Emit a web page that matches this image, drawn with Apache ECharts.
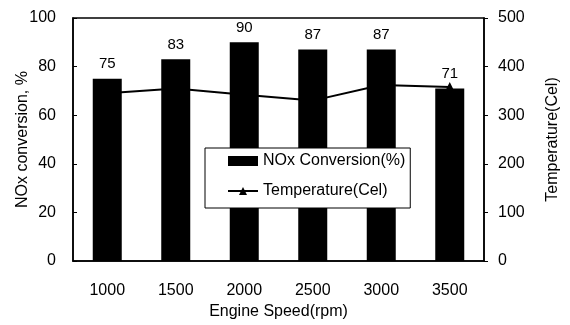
<!DOCTYPE html>
<html><head><meta charset="utf-8">
<script src="https://cdn.jsdelivr.net/npm/echarts@6/dist/echarts.min.js"></script>
<style>html,body{margin:0;padding:0;background:#fff}#c{width:570px;height:325px}</style>
</head><body><div id="c"></div>
<script>
const categories = ['1000','1500','2000','2500','3000','3500'];
const noxConversion = [75, 83, 90, 87, 87, 71];
const temperature = [345, 355, 342, 330, 362, 358];
const leftTicks = [0, 20, 40, 60, 80, 100];
const rightTicks = [0, 100, 200, 300, 400, 500];

const font = 'Liberation Sans, Arial, sans-serif';
const chart = echarts.init(document.getElementById('c'));
chart.setOption({
  animation: false,
  backgroundColor: '#fff',
  textStyle: { fontFamily: font, color: '#000' },
  grid: { left: 73, right: 86, top: 18, bottom: 63, show: true, borderColor: '#000', borderWidth: 1.5, backgroundColor: 'transparent' },
  legend: {
    orient: 'vertical', left: 205, top: 148,
    padding: [5, 5, 9, 22], itemGap: 14,
    backgroundColor: '#fff', borderColor: '#000', borderWidth: 1,
    itemWidth: 30, itemHeight: 10,
    textStyle: { fontFamily: font, fontSize: 16, color: '#000' },
    data: [
      { name: 'NOx Conversion(%)', icon: 'rect' },
      { name: 'Temperature(Cel)' }
    ]
  },
  xAxis: {
    type: 'category', data: categories, boundaryGap: true,
    name: 'Engine Speed(rpm)', nameLocation: 'middle', nameGap: 43, nameMoveOverlap: false,
    nameTextStyle: { fontFamily: font, fontSize: 16, color: '#000' },
    axisLine: { lineStyle: { color: '#000', width: 1.5 } },
    axisTick: { inside: true, length: 4, lineStyle: { color: '#000' } },
    axisLabel: { fontFamily: font, fontSize: 16, color: '#000', margin: 22 }
  },
  yAxis: [
    {
      type: 'value', min: leftTicks[0], max: leftTicks[leftTicks.length-1], interval: 20,
      name: 'NOx conversion, %', nameLocation: 'middle', nameGap: 42, nameRotate: 90, nameMoveOverlap: false,
      nameTextStyle: { fontFamily: font, fontSize: 16, color: '#000' },
      axisLine: { show: true, lineStyle: { color: '#000', width: 1.5 } },
      axisTick: { show: true, inside: true, length: 4, lineStyle: { color: '#000' } },
      axisLabel: { fontFamily: font, fontSize: 16, color: '#000', margin: 17 },
      splitLine: { show: false }
    },
    {
      type: 'value', min: rightTicks[0], max: rightTicks[rightTicks.length-1], interval: 100,
      position: 'right',
      name: 'Temperature(Cel)', nameLocation: 'middle', nameGap: 61, nameRotate: 90, nameMoveOverlap: false,
      nameTextStyle: { fontFamily: font, fontSize: 16, color: '#000' },
      axisLine: { show: true, lineStyle: { color: '#000', width: 1.5 } },
      axisTick: { show: true, inside: false, length: 4, lineStyle: { color: '#000' } },
      axisLabel: { fontFamily: font, fontSize: 16, color: '#000', margin: 14 },
      splitLine: { show: false }
    }
  ],
  series: [
    {
      name: 'Temperature(Cel)', type: 'line', yAxisIndex: 1, data: temperature,
      symbol: 'triangle', symbolSize: 10, z: 1,
      lineStyle: { color: '#000', width: 2 },
      itemStyle: { color: '#000' }
    },
    {
      name: 'NOx Conversion(%)', type: 'bar', yAxisIndex: 0, data: noxConversion,
      barWidth: 29, z: 2,
      itemStyle: { color: '#000' },
      label: { show: true, position: 'top', distance: 7, fontFamily: font, fontSize: 15, color: '#000' }
    }
  ]
});
</script></body></html>
